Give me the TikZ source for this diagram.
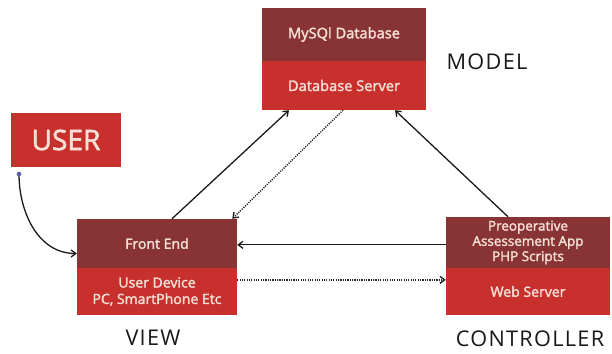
\documentclass[tikz,border=0pt]{standalone}
\usepackage{fontspec}
\setmainfont{Open Sans}
\newfontfamily\boxfont{Open Sans}[FakeBold=2]
\newfontfamily\tierfont{Open Sans}[LetterSpace=6]
\usepackage{tikz}
\usetikzlibrary{arrows.meta,positioning,calc}

\definecolor{darkred}{RGB}{136,52,52}
\definecolor{brightred}{RGB}{200,48,46}
\definecolor{paletext}{RGB}{246,224,214}
\definecolor{dotblue}{RGB}{96,96,160}

\tikzset{
  part/.style={inner sep=0pt,align=center,text=paletext,font=\boxfont\fontsize{12}{14}\selectfont},
  darkpart/.style={part,fill=darkred},
  lightpart/.style={part,fill=brightred},
  tier/.style={font=\tierfont\fontsize{18.5}{21}\selectfont,text=black!90},
  link/.style={->,line width=1.1pt,black!90},
  dots/.style={->,dash pattern=on 1pt off 1pt,line width=1.2pt,black!85}
}

\begin{document}
\begin{tikzpicture}[>={Straight Barb[length=4pt,width=6pt]}]
\useasboundingbox (0,0) rectangle (18.36,10.59);
% model
\node[darkpart,minimum width=4.92cm,minimum height=1.59cm,font=\boxfont\fontsize{12.5}{14}\selectfont] (mtop) at (10.32,9.555) {MySQl Database};
\node[lightpart,minimum width=4.92cm,minimum height=1.47cm,font=\boxfont\fontsize{12.5}{14}\selectfont] (mbot) at (10.32,8.025) {Database Server};
\node[tier] (model) at (14.61,8.73) {MODEL};
% user
\node[lightpart,minimum width=3.3cm,minimum height=1.62cm,font=\boxfont\fontsize{24}{26}\selectfont] (user) at (1.98,6.39) {USER};
\coordinate (udot) at (0.57,5.37);
% view
\node[darkpart,minimum width=4.8cm,minimum height=1.47cm] (vtop) at (4.71,3.285) {Front End};
\node[lightpart,minimum width=4.8cm,minimum height=1.41cm] (vbot) at (4.71,1.845) {User Device\\PC, SmartPhone Etc};
\node[tier] (view) at (4.59,0.45) {VIEW};
% controller
\node[darkpart,minimum width=4.92cm,minimum height=1.53cm,font=\boxfont\fontsize{11.5}{13}\selectfont] (ctop) at (15.84,3.315) {Preoperative\\Assessement App\\PHP Scripts};
\node[lightpart,minimum width=4.92cm,minimum height=1.41cm] (cbot) at (15.84,1.845) {Web Server};
\node[tier] (controller) at (15.9,0.42) {CONTROLLER};

\draw[link] ([xshift=0.45cm]vtop.north) -- ([xshift=-1.65cm]mbot.south);
\draw[dots] ([xshift=-0.03cm]mbot.south) -- ([xshift=-0.15cm]vtop.north east);
\draw[link] ([xshift=-0.6cm]ctop.north) -- ([xshift=1.53cm]mbot.south);
\draw[link] ([yshift=-0.07cm]ctop.west) -- ([yshift=-0.07cm]ctop.west -| vtop.east);
\draw[dots] ([yshift=0.35cm]vbot.east) -- ([yshift=0.35cm]vbot.east -| cbot.west);
\draw[link] (udot) to[out=-90,in=180] ([yshift=-0.3cm]vtop.west);
\fill[dotblue] (udot) circle (0.07);
\end{tikzpicture}
\end{document}
